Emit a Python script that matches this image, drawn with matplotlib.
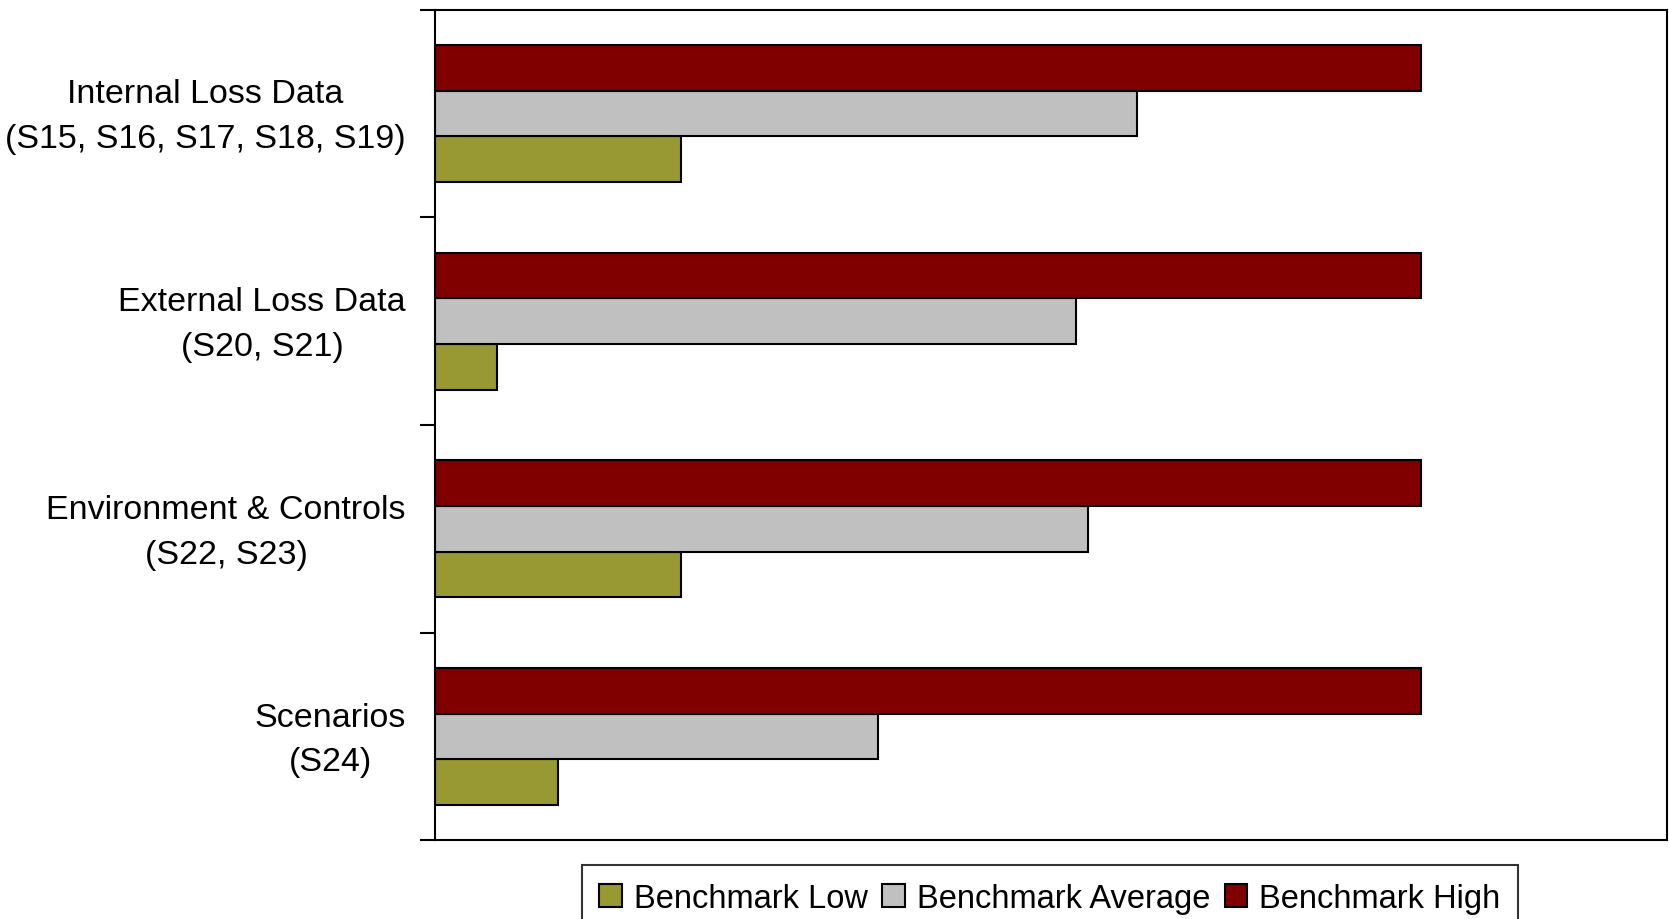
import matplotlib.pyplot as plt
import matplotlib.transforms as mtransforms
import numpy as np

plt.rcParams['font.family'] = ['Liberation Sans', 'DejaVu Sans']

categories = [
    "Internal Loss Data\n(S15, S16, S17, S18, S19)",
    "External Loss Data\n(S20, S21)",
    "Environment & Controls\n(S22, S23)",
    "Scenarios\n(S24)",
]
bench_low = [1.0, 0.25, 1.0, 0.5]
bench_avg = [2.85, 2.60, 2.65, 1.80]
bench_high = [4.0, 4.0, 4.0, 4.0]

colors = {"low": "#999933", "avg": "#C0C0C0", "high": "#800000"}

fig = plt.figure(figsize=(16.69, 9.20), dpi=100)
ax = fig.add_axes([0.2606, 0.0855, 0.7382, 0.903])

y = np.arange(len(categories))
h = 0.22
ax.barh(y + h, bench_low, height=h, color=colors["low"], edgecolor="black",
        linewidth=1.5, label="Benchmark Low")
ax.barh(y, bench_avg, height=h, color=colors["avg"], edgecolor="black",
        linewidth=1.5, label="Benchmark Average")
ax.barh(y - h, bench_high, height=h, color=colors["high"], edgecolor="black",
        linewidth=1.5, label="Benchmark High")

ax.set_xlim(0, 5)
ax.set_ylim(len(categories) - 0.5, -0.5)

# category labels at centres, tick marks at the boundaries
ax.set_yticks(y)
ax.set_yticklabels(categories, fontsize=24.5, ha="right", va="center",
                   multialignment="center", linespacing=1.58)
ax.tick_params(axis="y", which="major", length=0, pad=21)
ax.set_yticks(np.arange(-0.5, len(categories)), minor=True)
ax.tick_params(axis="y", which="minor", length=11, width=1.5, direction="out")
ax.set_xticks([])

# nudge the labels down a little
shift = mtransforms.ScaledTranslation(0, -3 / 100, fig.dpi_scale_trans)
for lbl in ax.get_yticklabels():
    lbl.set_transform(lbl.get_transform() + shift)

for s in ax.spines.values():
    s.set_linewidth(1.5)
    s.set_color("black")

handles, labels = ax.get_legend_handles_labels()
leg = fig.legend(handles, labels, loc="upper center", bbox_to_anchor=(0.629, 0.0587),
                 ncol=3, fontsize=23.5, frameon=True, fancybox=False,
                 edgecolor="black", handlelength=0.7, handleheight=0.7,
                 handletextpad=0.35, columnspacing=0.45, borderpad=0.55,
                 borderaxespad=0)
leg.get_frame().set_linewidth(1.5)

fig.savefig("out.png", dpi=100)
